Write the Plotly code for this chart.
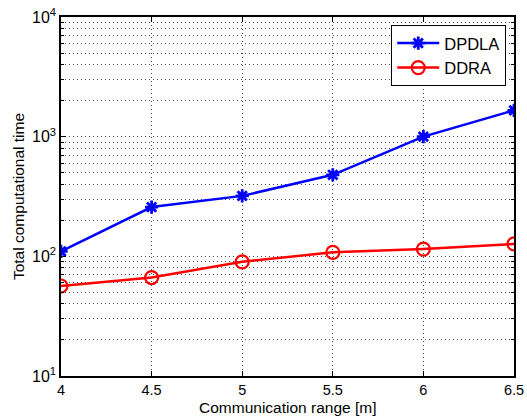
import plotly.graph_objects as go

x_range = [4, 4.5, 5, 5.5, 6, 6.5]
dpdla = [110, 258, 320, 480, 1000, 1660]
ddra = [56.5, 66.5, 90, 108, 115, 127]
x_ticks = [4, 4.5, 5, 5.5, 6, 6.5]
x_ticktext = ["4", "4.5", "5", "5.5", "6", "6.5"]
y_ticks = [10, 100, 1000, 10000]
y_ticktext = ["10<sup>1</sup>", "10<sup>2</sup>", "10<sup>3</sup>", "10<sup>4</sup>"]
y_minor = [m * d for d in (10, 100, 1000) for m in range(2, 10)]
x_title = "Communication range [m]"
y_title = "Total computational time"

font_family = "Liberation Sans, Arial, sans-serif"

fig = go.Figure()
fig.add_trace(go.Scatter(
    x=x_range, y=dpdla, name="DPDLA", mode="lines+markers",
    line=dict(color="#0000ff", width=2.5),
    marker=dict(symbol="asterisk-open", size=11, color="#0000ff",
                line=dict(color="#0000ff", width=2.8)),
))
fig.add_trace(go.Scatter(
    x=x_range, y=ddra, name="DDRA", mode="lines+markers",
    line=dict(color="#ff0000", width=2.5),
    marker=dict(symbol="circle-open", size=13, color="#ff0000",
                line=dict(color="#ff0000", width=2.2)),
))

grid_col = "rgba(40,40,40,0.85)"
dot = "1px,3px"
fig.update_layout(
    width=527, height=417,
    margin=dict(l=61, r=13, t=17, b=41),
    paper_bgcolor="white", plot_bgcolor="white",
    font=dict(family=font_family, size=15, color="black"),
    showlegend=True,
    legend=dict(
        x=0.729, y=0.978, xanchor="left", yanchor="top",
        bgcolor="white", bordercolor="black", borderwidth=1,
        font=dict(size=16.5, family=font_family),
        tracegroupgap=0, itemwidth=42,
    ),
    xaxis=dict(
        range=[4, 6.5], tickvals=x_ticks, ticktext=x_ticktext,
        automargin=False,
        showline=True, linecolor="black", linewidth=1.5, mirror="ticks",
        ticks="inside", ticklen=5, tickcolor="black",
        showgrid=True, gridcolor=grid_col, griddash=dot, gridwidth=1,
        zeroline=False,
        tickfont=dict(size=14.5),
    ),
    yaxis=dict(
        type="log", range=[1, 4], tickvals=y_ticks, ticktext=y_ticktext,
        automargin=False,
        showline=True, linecolor="black", linewidth=1.5, mirror="ticks",
        ticks="inside", ticklen=5, tickcolor="black",
        showgrid=True, gridcolor=grid_col, griddash=dot, gridwidth=1,
        zeroline=False,
        minor=dict(tickmode="array", tickvals=y_minor,
                   ticks="inside", ticklen=3, tickcolor="black",
                   showgrid=True, gridcolor=grid_col, griddash=dot, gridwidth=1),
        title=dict(text=y_title, font=dict(size=15.5), standoff=4),
        tickfont=dict(size=16),
    ),
    annotations=[dict(
        text=x_title, xref="paper", yref="paper", x=0.5, y=-0.088,
        xanchor="center", yanchor="middle", showarrow=False,
        font=dict(size=15.5, family=font_family),
    )],
)

fig.write_html("out.html")
